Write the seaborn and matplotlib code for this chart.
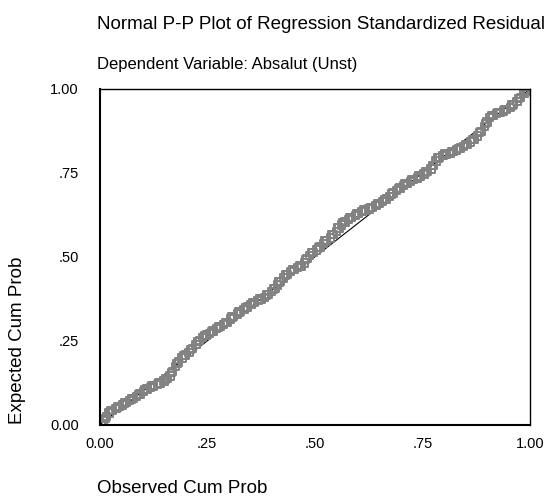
import matplotlib
matplotlib.use("Agg")
import matplotlib.pyplot as plt
import seaborn as sns
import pandas as pd

title_line1 = "Normal P-P Plot of Regression Standardized Residual"
title_line2 = "Dependent Variable: Absalut (Unst)"
x_label = "Observed Cum Prob"
y_label = "Expected Cum Prob"
tick_values = [0.0, 0.25, 0.5, 0.75, 1.0]
tick_labels = ["0.00", ".25", ".50", ".75", "1.00"]

observed = [
    0.004, 0.010, 0.016, 0.022, 0.030, 0.038, 0.046, 0.054, 0.062, 0.070,
    0.078, 0.086, 0.094, 0.102, 0.110, 0.118, 0.126, 0.134, 0.142, 0.150,
    0.158, 0.164, 0.170, 0.176, 0.184, 0.192, 0.200, 0.208, 0.216, 0.224,
    0.232, 0.240, 0.248, 0.256, 0.264, 0.272, 0.280, 0.288, 0.296, 0.304,
    0.312, 0.320, 0.328, 0.336, 0.344, 0.352, 0.360, 0.368, 0.376, 0.384,
    0.392, 0.400, 0.408, 0.414, 0.420, 0.428, 0.436, 0.444, 0.452, 0.460,
    0.468, 0.476, 0.482, 0.488, 0.496, 0.504, 0.512, 0.520, 0.528, 0.536,
    0.544, 0.550, 0.556, 0.562, 0.570, 0.578, 0.586, 0.594, 0.602, 0.610,
    0.618, 0.626, 0.634, 0.642, 0.650, 0.658, 0.666, 0.674, 0.682, 0.690,
    0.698, 0.706, 0.714, 0.722, 0.730, 0.738, 0.746, 0.754, 0.762, 0.770,
    0.776, 0.782, 0.790, 0.798, 0.806, 0.814, 0.822, 0.830, 0.838, 0.846,
    0.854, 0.862, 0.870, 0.878, 0.886, 0.894, 0.900, 0.906, 0.914, 0.922,
    0.930, 0.938, 0.946, 0.954, 0.962, 0.970, 0.978, 0.986, 0.994,
    0.013, 0.026, 0.042, 0.058, 0.074, 0.090, 0.106, 0.122, 0.138, 0.154,
    0.167, 0.180, 0.196, 0.212, 0.228, 0.244, 0.260, 0.276, 0.292, 0.308,
    0.324, 0.340, 0.356, 0.372, 0.388, 0.404, 0.417, 0.432, 0.448, 0.464,
    0.479, 0.492, 0.508, 0.524, 0.540, 0.553, 0.566, 0.582, 0.598, 0.614,
    0.630, 0.646, 0.662, 0.678, 0.694, 0.710, 0.726, 0.742, 0.758, 0.773,
    0.786, 0.802, 0.818, 0.834, 0.850, 0.866, 0.882, 0.897, 0.910, 0.926,
    0.942, 0.958, 0.974, 0.990,
]
expected = [
    0.003, 0.012, 0.025, 0.036, 0.044, 0.049, 0.055, 0.060, 0.066, 0.072,
    0.078, 0.085, 0.092, 0.100, 0.107, 0.112, 0.116, 0.120, 0.125, 0.131,
    0.139, 0.146, 0.160, 0.175, 0.187, 0.199, 0.208, 0.216, 0.228, 0.240,
    0.252, 0.261, 0.268, 0.273, 0.280, 0.287, 0.293, 0.299, 0.306, 0.315,
    0.323, 0.330, 0.337, 0.344, 0.351, 0.358, 0.364, 0.370, 0.375, 0.380,
    0.388, 0.397, 0.407, 0.417, 0.428, 0.438, 0.447, 0.456, 0.462, 0.468,
    0.473, 0.482, 0.495, 0.505, 0.513, 0.521, 0.530, 0.540, 0.549, 0.557,
    0.566, 0.576, 0.586, 0.595, 0.604, 0.611, 0.617, 0.623, 0.629, 0.635,
    0.639, 0.643, 0.648, 0.653, 0.659, 0.665, 0.673, 0.681, 0.690, 0.698,
    0.705, 0.712, 0.719, 0.725, 0.730, 0.735, 0.741, 0.747, 0.754, 0.762,
    0.772, 0.786, 0.796, 0.802, 0.806, 0.809, 0.814, 0.818, 0.824, 0.829,
    0.835, 0.842, 0.850, 0.860, 0.873, 0.888, 0.902, 0.915, 0.922, 0.927,
    0.931, 0.935, 0.939, 0.945, 0.953, 0.963, 0.975, 0.986, 0.996,
    0.020, 0.043, 0.054, 0.065, 0.077, 0.090, 0.106, 0.117, 0.125, 0.137,
    0.156, 0.183, 0.206, 0.225, 0.248, 0.266, 0.279, 0.292, 0.305, 0.321,
    0.336, 0.350, 0.364, 0.375, 0.387, 0.405, 0.426, 0.446, 0.462, 0.474,
    0.492, 0.513, 0.528, 0.548, 0.566, 0.586, 0.603, 0.618, 0.629, 0.640,
    0.648, 0.659, 0.672, 0.688, 0.704, 0.718, 0.730, 0.741, 0.753, 0.772,
    0.795, 0.807, 0.814, 0.823, 0.835, 0.849, 0.870, 0.898, 0.921, 0.931,
    0.939, 0.952, 0.971, 0.993,
]
diag_x = [0.0, 1.0]
diag_y = [0.0, 1.0]

sns.set_theme(style="white")
plt.rcParams['font.family'] = ['Liberation Sans', 'DejaVu Sans']

df = pd.DataFrame({"obs": observed, "exp": expected})
dline = pd.DataFrame({"x": diag_x, "y": diag_y})

fig = plt.figure(figsize=(5.51, 4.97), dpi=100)
ax = fig.add_axes([99.5 / 551, 1 - 425 / 497, 430.5 / 551, 336 / 497])

sns.lineplot(data=dline, x="x", y="y", ax=ax, color="black", linewidth=0.8, zorder=1)
sns.scatterplot(data=df, x="obs", y="exp", ax=ax, marker="s", s=28,
                facecolors="none", edgecolor="#828282", linewidth=1.4, zorder=2)

ax.set_xlim(0, 1)
ax.set_ylim(0, 1)
ax.set_xticks(tick_values)
ax.set_xticklabels(tick_labels)
ax.set_yticks(tick_values)
ax.set_yticklabels(tick_labels)
ax.set_xlabel("")
ax.set_ylabel("")
ax.tick_params(axis="both", direction="out", length=4, width=0.8, color="black",
               labelsize=10.5, labelcolor="black")
ax.tick_params(axis="y", pad=11)
ax.tick_params(axis="x", pad=5)
for side, lw in [("left", 1.5), ("bottom", 1.5), ("top", 1.0), ("right", 1.0)]:
    ax.spines[side].set_visible(True)
    ax.spines[side].set_color("black")
    ax.spines[side].set_linewidth(lw)

fig.text(97 / 551, 1 - 29 / 497, title_line1, fontsize=13.5, ha="left", va="baseline", color="black")
fig.text(97 / 551, 1 - 69 / 497, title_line2, fontsize=12, ha="left", va="baseline", color="black")
fig.text(97 / 551, 1 - 493 / 497, x_label, fontsize=13.5, ha="left", va="baseline", color="black")
fig.text(18 / 551, 1 - 340 / 497, y_label, fontsize=13.5, ha="center", va="center",
         rotation=90, color="black")

fig.savefig("out.png", dpi=100, facecolor="white")
